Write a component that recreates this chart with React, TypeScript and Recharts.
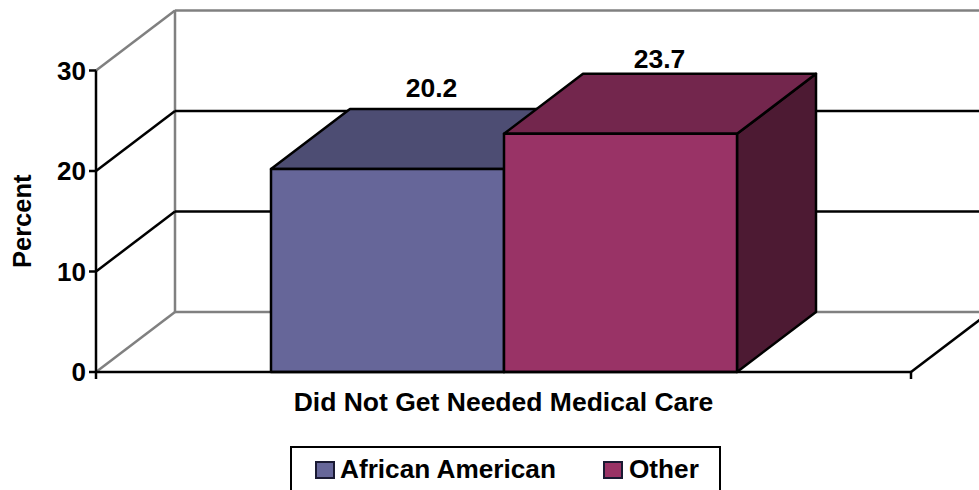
import { BarChart, Bar, XAxis, YAxis, CartesianGrid, Legend, LabelList } from "recharts";

const categories = ["Did Not Get Needed Medical Care"];
const africanAmerican = [20.2];
const other = [23.7];
const yTicks = [0, 10, 20, 30];

const data = categories.map((name, i) => ({
  name,
  africanAmerican: africanAmerican[i],
  other: other[i],
}));

const FONT = "'Liberation Sans', Arial, sans-serif";
const DEPTH_X = 79;
const DEPTH_Y = 60;
const WALL_GRAY = "#808080";
const LINE = 2.5;

// 3D box, front face comes from the bar rectangle recharts hands over
function Box3D(props: any) {
  const { x, y, width, height, fill, topFill, sideFill } = props;
  const r = x + width;
  const b = y + height;
  const top = `${x},${y} ${x + DEPTH_X},${y - DEPTH_Y} ${r + DEPTH_X},${y - DEPTH_Y} ${r},${y}`;
  const side = `${r},${y} ${r + DEPTH_X},${y - DEPTH_Y} ${r + DEPTH_X},${b - DEPTH_Y} ${r},${b}`;
  return (
    <g stroke="#000" strokeWidth={LINE} strokeLinejoin="round">
      <polygon points={side} fill={sideFill} />
      <polygon points={top} fill={topFill} />
      <rect x={x} y={y} width={width} height={height} fill={fill} />
    </g>
  );
}

function GridLine(props: any) {
  const { x1, x2, y1, index } = props;
  const isFloor = index === 0;
  const isTop = index === yTicks.length - 1;
  const gray = isFloor || isTop;
  const bx = x1 + DEPTH_X;
  const by = y1 - DEPTH_Y;
  return (
    <g>
      <line x1={x1} y1={y1} x2={bx} y2={by} stroke={gray ? WALL_GRAY : "#000"} strokeWidth={LINE} />
      <line x1={bx} y1={by} x2={x2 + DEPTH_X} y2={by} stroke={gray ? WALL_GRAY : "#000"} strokeWidth={LINE} />
      {isFloor && (
        <g>
          <line x1={bx} y1={by} x2={bx} y2={by - 302} stroke={WALL_GRAY} strokeWidth={LINE} />
          <line x1={x2} y1={y1} x2={x2 + DEPTH_X} y2={by} stroke="#000" strokeWidth={LINE} />
          <line x1={x2} y1={y1} x2={x2} y2={y1 + 7} stroke="#000" strokeWidth={LINE} />
          <line x1={x1} y1={y1} x2={x1} y2={y1 + 7} stroke="#000" strokeWidth={LINE} />
        </g>
      )}
    </g>
  );
}

function BarLabel(props: any) {
  const { x, y, width, value, dx, dy } = props;
  return (
    <text
      x={x + width / 2 + dx}
      y={y + dy}
      textAnchor="middle"
      fontFamily={FONT}
      fontWeight="bold"
      fontSize={26.5}
      fill="#000"
    >
      {value}
    </text>
  );
}

function ChartLegend() {
  const textStyle = {
    position: "absolute" as const,
    top: 7,
    fontFamily: FONT,
    fontWeight: "bold",
    fontSize: 26.2,
    lineHeight: "28px",
    color: "#000",
    whiteSpace: "nowrap" as const,
  };
  const swatch = (left: number, color: string) => ({
    position: "absolute" as const,
    left,
    top: 13,
    width: 16,
    height: 14,
    background: color,
    border: "2px solid #1a1a33",
  });
  return (
    <div
      style={{
        position: "relative",
        boxSizing: "border-box",
        width: 431,
        height: 44,
        background: "#fff",
        border: "2px solid #000",
        borderBottom: "none",
      }}
    >
      <div style={swatch(23, "#666699")} />
      <div style={{ ...textStyle, left: 48 }}>African American</div>
      <div style={swatch(311, "#993366")} />
      <div style={{ ...textStyle, left: 337 }}>Other</div>
    </div>
  );
}

export default function App() {
  return (
    <div style={{ position: "absolute", left: 0, top: 0, width: 979, height: 490, overflow: "hidden", background: "#fff" }}>
      <BarChart
        width={979}
        height={490}
        data={data}
        margin={{ top: 70.5, right: 68, bottom: 88, left: 0 }}
        barGap={0}
        barCategoryGap={175}
      >
        <CartesianGrid vertical={false} horizontal={(p: any) => <GridLine key={p.key} {...p} />} />
        <XAxis
          dataKey="name"
          height={30}
          tickLine={false}
          axisLine={{ stroke: "#000", strokeWidth: LINE }}
          tick={{ fill: "#000", fontFamily: FONT, fontWeight: "bold", fontSize: 26.5 }}
          tickMargin={14}
        />
        <YAxis
          width={96}
          domain={[0, 30]}
          ticks={yTicks}
          interval={0}
          tickSize={7}
          tickMargin={3}
          axisLine={{ stroke: "#000", strokeWidth: LINE }}
          tickLine={{ stroke: "#000", strokeWidth: LINE }}
          tick={{ fill: "#000", fontFamily: FONT, fontWeight: "bold", fontSize: 26 }}
          label={{
            value: "Percent",
            angle: -90,
            position: "insideLeft",
            offset: 22,
            style: { fill: "#000", fontFamily: FONT, fontWeight: "bold", fontSize: 25.5, textAnchor: "middle" },
          }}
        />
        <Legend
          verticalAlign="middle"
          align="center"
          wrapperStyle={{ left: 290, top: 446, width: 431 }}
          content={() => <ChartLegend />}
        />
        <Bar
          dataKey="africanAmerican"
          name="African American"
          fill="#666699"
          isAnimationActive={false}
          shape={(p: any) => <Box3D {...p} topFill="#4d4d73" sideFill="#33334d" />}
        >
          <LabelList dataKey="africanAmerican" content={(p: any) => <BarLabel {...p} dx={44} dy={-72} />} />
        </Bar>
        <Bar
          dataKey="other"
          name="Other"
          fill="#993366"
          isAnimationActive={false}
          shape={(p: any) => <Box3D {...p} topFill="#73264d" sideFill="#4d1a33" />}
        >
          <LabelList dataKey="other" content={(p: any) => <BarLabel {...p} dx={39} dy={-66} />} />
        </Bar>
      </BarChart>
    </div>
  );
}
